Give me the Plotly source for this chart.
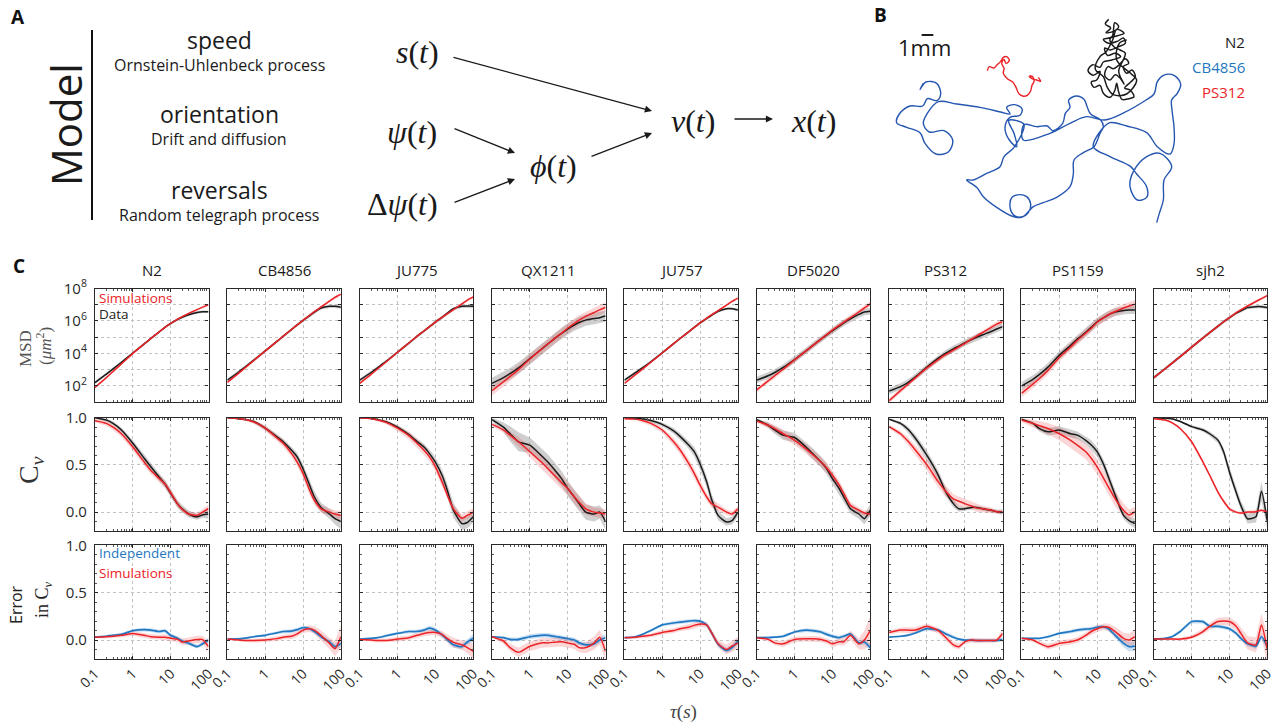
import plotly.graph_objects as go

W, H = 1288, 728

# ---------------------------------------------------------------- data
STRAINS = ["N2", "CB4856", "JU775", "QX1211", "JU757", "DF5020", "PS312", "PS1159", "sjh2"]
TAU = [0.1, 0.2, 0.3, 0.5, 1, 2, 3, 5, 7, 10, 15, 20, 30, 50, 70, 100]

# mean squared displacement, log10(um^2)
MSD_DATA = {
    "N2":     [2.20, 2.72, 3.04, 3.45, 4.02, 4.58, 4.92, 5.33, 5.60, 5.85, 6.08, 6.22, 6.38, 6.52, 6.57, 6.57],
    "CB4856": [2.35, 2.85, 3.17, 3.58, 4.15, 4.72, 5.06, 5.48, 5.76, 6.04, 6.33, 6.55, 6.80, 6.90, 6.90, 6.85],
    "JU775":  [2.35, 2.82, 3.12, 3.50, 4.07, 4.64, 4.98, 5.38, 5.65, 5.93, 6.22, 6.45, 6.75, 6.90, 6.92, 6.90],
    "QX1211": [2.15, 2.50, 2.75, 3.10, 3.68, 4.25, 4.58, 5.00, 5.25, 5.50, 5.75, 5.90, 6.05, 6.15, 6.20, 6.30],
    "JU757":  [2.35, 2.82, 3.10, 3.48, 4.03, 4.60, 4.93, 5.33, 5.60, 5.88, 6.15, 6.35, 6.60, 6.75, 6.75, 6.68],
    "DF5020": [2.35, 2.62, 2.82, 3.13, 3.62, 4.15, 4.48, 4.88, 5.13, 5.40, 5.68, 5.88, 6.13, 6.40, 6.55, 6.60],
    "PS312":  [1.67, 1.95, 2.17, 2.55, 3.15, 3.70, 3.98, 4.28, 4.45, 4.65, 4.85, 4.98, 5.15, 5.35, 5.50, 5.65],
    "PS1159": [1.98, 2.40, 2.70, 3.15, 3.88, 4.50, 4.88, 5.30, 5.60, 5.95, 6.20, 6.38, 6.55, 6.65, 6.67, 6.67],
    "sjh2":   [2.50, 3.05, 3.38, 3.80, 4.38, 4.95, 5.28, 5.68, 5.95, 6.20, 6.48, 6.62, 6.82, 6.88, 6.88, 6.82],
}
MSD_SIM = {
    "N2":     [1.90, 2.50, 2.88, 3.35, 4.00, 4.58, 4.92, 5.33, 5.60, 5.85, 6.10, 6.27, 6.47, 6.70, 6.85, 7.00],
    "CB4856": [2.20, 2.78, 3.13, 3.56, 4.15, 4.72, 5.06, 5.48, 5.76, 6.04, 6.35, 6.57, 6.86, 7.22, 7.45, 7.65],
    "JU775":  [2.15, 2.70, 3.05, 3.48, 4.07, 4.64, 4.98, 5.38, 5.65, 5.93, 6.22, 6.42, 6.70, 7.05, 7.28, 7.48],
    "QX1211": [1.70, 2.25, 2.58, 3.00, 3.65, 4.25, 4.58, 5.00, 5.25, 5.55, 5.85, 6.05, 6.28, 6.52, 6.68, 6.84],
    "JU757":  [2.15, 2.70, 3.03, 3.45, 4.02, 4.60, 4.93, 5.33, 5.60, 5.88, 6.17, 6.37, 6.63, 6.97, 7.20, 7.40],
    "DF5020": [1.75, 2.30, 2.62, 3.02, 3.60, 4.15, 4.48, 4.88, 5.15, 5.43, 5.72, 5.92, 6.20, 6.55, 6.80, 7.05],
    "PS312":  [1.08, 1.70, 2.05, 2.50, 3.10, 3.62, 3.90, 4.20, 4.40, 4.62, 4.88, 5.05, 5.30, 5.60, 5.80, 5.95],
    "PS1159": [1.53, 2.10, 2.45, 2.95, 3.75, 4.40, 4.80, 5.25, 5.55, 5.92, 6.20, 6.38, 6.58, 6.80, 6.92, 7.03],
    "sjh2":   [2.50, 3.05, 3.38, 3.80, 4.38, 4.95, 5.28, 5.68, 5.95, 6.20, 6.50, 6.68, 6.92, 7.20, 7.38, 7.56],
}
# spread of the MSD curves, in decades (data, simulations)
MSD_SPREAD = {
    "N2": (0.08, 0.06), "CB4856": (0.10, 0.08), "JU775": (0.10, 0.08),
    "QX1211": (0.35, 0.30), "JU757": (0.08, 0.06), "DF5020": (0.20, 0.15),
    "PS312": (0.20, 0.15), "PS1159": (0.25, 0.25), "sjh2": (0.10, 0.08),
}

# velocity autocorrelation C_v
CV_DATA = {
    "N2":     [1.00, 0.975, 0.94, 0.87, 0.73, 0.57, 0.48, 0.37, 0.30, 0.20, 0.09, 0.035, -0.02, -0.05, -0.03, -0.02],
    "CB4856": [1.00, 0.99, 0.98, 0.96, 0.89, 0.80, 0.745, 0.655, 0.585, 0.46, 0.285, 0.16, 0.05, -0.02, -0.07, -0.10],
    "JU775":  [1.00, 0.995, 0.98, 0.957, 0.90, 0.82, 0.76, 0.69, 0.62, 0.53, 0.39, 0.25, 0.02, -0.12, -0.11, -0.05],
    "QX1211": [0.98, 0.90, 0.83, 0.745, 0.71, 0.60, 0.53, 0.425, 0.35, 0.25, 0.16, 0.09, 0.00, -0.02, 0.00, -0.10],
    "JU757":  [1.00, 0.995, 0.99, 0.97, 0.93, 0.86, 0.80, 0.71, 0.64, 0.51, 0.32, 0.14, -0.035, -0.105, -0.09, 0.00],
    "DF5020": [0.98, 0.92, 0.87, 0.815, 0.79, 0.69, 0.62, 0.53, 0.46, 0.355, 0.25, 0.16, 0.035, -0.02, -0.07, 0.02],
    "PS312":  [0.985, 0.94, 0.885, 0.78, 0.60, 0.39, 0.23, 0.09, 0.035, 0.035, 0.05, 0.05, 0.035, 0.02, 0.005, 0.00],
    "PS1159": [0.985, 0.94, 0.885, 0.85, 0.87, 0.83, 0.815, 0.76, 0.71, 0.64, 0.50, 0.37, 0.18, -0.035, -0.09, -0.12],
    "sjh2":   [1.00, 0.995, 0.99, 0.96, 0.905, 0.87, 0.83, 0.76, 0.64, 0.425, 0.21, 0.07, -0.07, -0.05, 0.22, -0.10],
}
CV_SIM = {
    "N2":     [0.968, 0.94, 0.90, 0.83, 0.69, 0.53, 0.44, 0.355, 0.30, 0.205, 0.09, 0.03, -0.02, -0.035, 0.00, 0.04],
    "CB4856": [1.00, 0.99, 0.98, 0.955, 0.89, 0.79, 0.73, 0.62, 0.53, 0.41, 0.23, 0.125, 0.035, 0.00, -0.02, -0.035],
    "JU775":  [1.00, 0.99, 0.975, 0.95, 0.89, 0.81, 0.745, 0.655, 0.585, 0.48, 0.32, 0.195, 0.035, -0.065, -0.035, 0.00],
    "QX1211": [0.93, 0.87, 0.815, 0.745, 0.64, 0.53, 0.46, 0.37, 0.31, 0.25, 0.16, 0.105, 0.035, 0.00, -0.01, -0.02],
    "JU757":  [0.99, 0.985, 0.97, 0.94, 0.87, 0.745, 0.655, 0.515, 0.41, 0.285, 0.16, 0.09, 0.053, 0.00, -0.02, 0.035],
    "DF5020": [0.965, 0.92, 0.885, 0.83, 0.76, 0.67, 0.61, 0.53, 0.47, 0.39, 0.285, 0.195, 0.07, 0.02, -0.01, -0.02],
    "PS312":  [0.905, 0.83, 0.76, 0.655, 0.50, 0.32, 0.23, 0.14, 0.115, 0.09, 0.065, 0.045, 0.035, 0.02, 0.005, 0.00],
    "PS1159": [0.975, 0.94, 0.915, 0.885, 0.83, 0.76, 0.71, 0.64, 0.57, 0.48, 0.355, 0.265, 0.14, 0.02, -0.03, 0.005],
    "sjh2":   [0.99, 0.975, 0.947, 0.885, 0.745, 0.53, 0.39, 0.21, 0.115, 0.035, 0.00, -0.01, 0.00, 0.005, 0.02, 0.00],
}
CV_DATA_SPREAD = {
    "N2":     [0.01, 0.015, 0.02, 0.025, 0.03, 0.035, 0.035, 0.04, 0.04, 0.04, 0.04, 0.04, 0.035, 0.03, 0.03, 0.05],
    "CB4856": [0.005, 0.01, 0.01, 0.015, 0.02, 0.03, 0.03, 0.035, 0.04, 0.05, 0.06, 0.06, 0.05, 0.05, 0.06, 0.08],
    "JU775":  [0.005, 0.01, 0.01, 0.015, 0.02, 0.025, 0.03, 0.035, 0.04, 0.05, 0.06, 0.07, 0.08, 0.07, 0.06, 0.06],
    "QX1211": [0.02, 0.05, 0.08, 0.10, 0.08, 0.08, 0.08, 0.08, 0.08, 0.08, 0.08, 0.08, 0.08, 0.08, 0.07, 0.09],
    "JU757":  [0.005, 0.01, 0.01, 0.015, 0.02, 0.03, 0.035, 0.04, 0.05, 0.06, 0.06, 0.06, 0.05, 0.04, 0.04, 0.05],
    "DF5020": [0.01, 0.03, 0.04, 0.05, 0.05, 0.05, 0.06, 0.06, 0.06, 0.06, 0.06, 0.06, 0.05, 0.05, 0.06, 0.06],
    "PS312":  [0.01, 0.02, 0.03, 0.04, 0.05, 0.05, 0.05, 0.04, 0.03, 0.02, 0.02, 0.02, 0.02, 0.02, 0.02, 0.03],
    "PS1159": [0.01, 0.02, 0.03, 0.04, 0.04, 0.04, 0.04, 0.04, 0.05, 0.05, 0.05, 0.05, 0.05, 0.04, 0.04, 0.05],
    "sjh2":   [0.005, 0.01, 0.01, 0.01, 0.015, 0.02, 0.025, 0.03, 0.04, 0.05, 0.05, 0.05, 0.05, 0.06, 0.10, 0.08],
}
CV_SIM_SPREAD = {
    "N2":     [0.02, 0.025, 0.03, 0.035, 0.04, 0.04, 0.04, 0.04, 0.04, 0.04, 0.035, 0.03, 0.03, 0.03, 0.03, 0.04],
    "CB4856": [0.005, 0.01, 0.015, 0.02, 0.03, 0.035, 0.04, 0.04, 0.045, 0.05, 0.05, 0.05, 0.04, 0.04, 0.04, 0.05],
    "JU775":  [0.005, 0.01, 0.015, 0.02, 0.03, 0.04, 0.045, 0.05, 0.05, 0.05, 0.05, 0.05, 0.04, 0.04, 0.04, 0.04],
    "QX1211": [0.02, 0.03, 0.04, 0.05, 0.06, 0.07, 0.07, 0.07, 0.07, 0.07, 0.07, 0.07, 0.06, 0.05, 0.05, 0.05],
    "JU757":  [0.01, 0.015, 0.02, 0.025, 0.03, 0.04, 0.045, 0.05, 0.05, 0.05, 0.04, 0.04, 0.04, 0.03, 0.03, 0.03],
    "DF5020": [0.02, 0.03, 0.035, 0.04, 0.05, 0.05, 0.05, 0.05, 0.05, 0.05, 0.05, 0.05, 0.04, 0.03, 0.03, 0.03],
    "PS312":  [0.02, 0.03, 0.04, 0.05, 0.06, 0.06, 0.06, 0.05, 0.05, 0.05, 0.04, 0.04, 0.03, 0.03, 0.02, 0.02],
    "PS1159": [0.02, 0.04, 0.05, 0.06, 0.07, 0.08, 0.08, 0.08, 0.08, 0.08, 0.08, 0.08, 0.08, 0.07, 0.06, 0.05],
    "sjh2":   [0.005, 0.01, 0.01, 0.015, 0.02, 0.02, 0.02, 0.02, 0.02, 0.02, 0.015, 0.015, 0.015, 0.015, 0.015, 0.015],
}

# error in C_v: independent-process model and full simulations
ERR_INDEP = {
    "N2":     [0.03, 0.04, 0.05, 0.06, 0.10, 0.11, 0.105, 0.09, 0.10, 0.05, 0.02, -0.01, -0.035, -0.07, -0.04, 0.00],
    "CB4856": [0.01, 0.012, 0.02, 0.035, 0.05, 0.075, 0.09, 0.095, 0.11, 0.13, 0.12, 0.09, 0.035, -0.02, -0.07, -0.035],
    "JU775":  [0.01, 0.018, 0.025, 0.045, 0.07, 0.09, 0.09, 0.105, 0.125, 0.105, 0.055, 0.01, -0.05, -0.07, -0.02, 0.02],
    "QX1211": [0.035, 0.025, 0.007, 0.007, 0.035, 0.05, 0.05, 0.035, 0.025, 0.015, 0.00, -0.03, -0.05, -0.04, 0.00, 0.025],
    "JU757":  [0.025, 0.035, 0.06, 0.10, 0.16, 0.18, 0.19, 0.20, 0.205, 0.20, 0.16, 0.08, -0.045, -0.11, -0.08, -0.01],
    "DF5020": [0.025, 0.025, 0.03, 0.04, 0.085, 0.105, 0.10, 0.085, 0.06, 0.04, 0.025, 0.04, 0.065, -0.03, -0.02, -0.08],
    "PS312":  [0.03, 0.04, 0.05, 0.075, 0.12, 0.105, 0.07, 0.03, 0.01, 0.00, 0.00, -0.005, -0.005, -0.005, -0.005, 0.005],
    "PS1159": [0.018, 0.018, 0.018, 0.035, 0.07, 0.09, 0.105, 0.115, 0.12, 0.135, 0.14, 0.12, 0.05, -0.035, -0.07, -0.065],
    "sjh2":   [0.01, 0.018, 0.035, 0.09, 0.195, 0.195, 0.145, 0.145, 0.135, 0.12, 0.07, 0.018, -0.04, -0.065, 0.035, -0.07],
}
ERR_SIM = {
    "N2":     [0.03, 0.035, 0.04, 0.05, 0.07, 0.05, 0.035, 0.03, 0.03, 0.02, 0.01, -0.02, -0.01, 0.005, 0.005, -0.07],
    "CB4856": [0.01, 0.00, -0.005, -0.005, 0.00, 0.015, 0.03, 0.04, 0.065, 0.105, 0.12, 0.105, 0.05, -0.035, -0.09, 0.035],
    "JU775":  [0.007, 0.00, -0.005, -0.004, 0.01, 0.025, 0.045, 0.07, 0.08, 0.08, 0.06, 0.02, -0.025, -0.05, -0.08, -0.12],
    "QX1211": [0.035, -0.01, -0.08, -0.13, -0.065, -0.03, -0.03, -0.02, -0.018, -0.03, -0.045, -0.08, -0.08, -0.03, 0.03, -0.12],
    "JU757":  [0.025, 0.03, 0.04, 0.05, 0.08, 0.10, 0.12, 0.135, 0.155, 0.17, 0.16, 0.08, -0.04, -0.10, -0.065, -0.03],
    "DF5020": [0.025, 0.007, -0.03, -0.04, 0.007, 0.014, 0.014, 0.007, -0.01, -0.04, -0.018, -0.018, 0.05, -0.04, 0.00, 0.10],
    "PS312":  [0.08, 0.105, 0.105, 0.105, 0.145, 0.10, 0.035, -0.05, -0.07, -0.02, 0.00, -0.005, -0.005, -0.005, 0.00, 0.07],
    "PS1159": [0.018, 0.00, -0.035, -0.07, -0.035, -0.018, 0.00, 0.05, 0.09, 0.12, 0.14, 0.135, 0.09, 0.018, 0.00, 0.035],
    "sjh2":   [0.01, 0.01, 0.01, 0.01, 0.03, 0.09, 0.145, 0.195, 0.20, 0.195, 0.145, 0.07, -0.03, -0.05, 0.16, -0.10],
}
ERR_INDEP_SPREAD = {
    "N2":     [0.01, 0.01, 0.01, 0.015, 0.015, 0.02, 0.02, 0.02, 0.02, 0.02, 0.02, 0.02, 0.02, 0.02, 0.02, 0.03],
    "CB4856": [0.01, 0.01, 0.01, 0.01, 0.015, 0.015, 0.02, 0.02, 0.02, 0.02, 0.02, 0.02, 0.02, 0.025, 0.03, 0.04],
    "JU775":  [0.01, 0.01, 0.01, 0.015, 0.015, 0.02, 0.02, 0.02, 0.025, 0.025, 0.025, 0.025, 0.03, 0.03, 0.03, 0.04],
    "QX1211": [0.01, 0.015, 0.02, 0.02, 0.025, 0.025, 0.025, 0.025, 0.025, 0.025, 0.025, 0.025, 0.025, 0.03, 0.03, 0.04],
    "JU757":  [0.01, 0.01, 0.01, 0.015, 0.015, 0.02, 0.02, 0.02, 0.02, 0.02, 0.02, 0.02, 0.025, 0.03, 0.03, 0.04],
    "DF5020": [0.01, 0.01, 0.01, 0.015, 0.015, 0.02, 0.02, 0.02, 0.02, 0.02, 0.02, 0.02, 0.02, 0.025, 0.03, 0.04],
    "PS312":  [0.01, 0.01, 0.015, 0.015, 0.02, 0.02, 0.02, 0.02, 0.015, 0.015, 0.015, 0.015, 0.015, 0.015, 0.015, 0.02],
    "PS1159": [0.01, 0.01, 0.01, 0.015, 0.015, 0.02, 0.02, 0.02, 0.02, 0.02, 0.02, 0.025, 0.03, 0.04, 0.05, 0.05],
    "sjh2":   [0.01, 0.01, 0.01, 0.015, 0.02, 0.02, 0.02, 0.02, 0.02, 0.02, 0.02, 0.02, 0.025, 0.03, 0.03, 0.04],
}
ERR_SIM_SPREAD = {
    "N2":     [0.01, 0.015, 0.02, 0.02, 0.025, 0.025, 0.025, 0.025, 0.03, 0.03, 0.03, 0.035, 0.04, 0.04, 0.04, 0.06],
    "CB4856": [0.01, 0.01, 0.015, 0.02, 0.02, 0.025, 0.025, 0.03, 0.03, 0.03, 0.035, 0.04, 0.05, 0.06, 0.08, 0.12],
    "JU775":  [0.01, 0.015, 0.02, 0.02, 0.025, 0.025, 0.025, 0.03, 0.03, 0.03, 0.035, 0.04, 0.05, 0.05, 0.06, 0.08],
    "QX1211": [0.01, 0.03, 0.04, 0.05, 0.05, 0.05, 0.05, 0.05, 0.05, 0.05, 0.05, 0.05, 0.06, 0.07, 0.08, 0.10],
    "JU757":  [0.01, 0.015, 0.02, 0.02, 0.025, 0.025, 0.025, 0.03, 0.03, 0.03, 0.03, 0.035, 0.04, 0.05, 0.06, 0.06],
    "DF5020": [0.01, 0.02, 0.025, 0.03, 0.03, 0.03, 0.03, 0.03, 0.03, 0.035, 0.035, 0.04, 0.05, 0.06, 0.10, 0.15],
    "PS312":  [0.02, 0.025, 0.03, 0.03, 0.03, 0.03, 0.035, 0.035, 0.03, 0.025, 0.025, 0.025, 0.025, 0.025, 0.025, 0.04],
    "PS1159": [0.01, 0.02, 0.025, 0.03, 0.03, 0.03, 0.03, 0.03, 0.035, 0.035, 0.035, 0.04, 0.05, 0.06, 0.07, 0.08],
    "sjh2":   [0.01, 0.01, 0.01, 0.015, 0.02, 0.03, 0.035, 0.04, 0.04, 0.045, 0.05, 0.06, 0.07, 0.08, 0.12, 0.15],
}

# example tracks (tracking-grid units; 35 units = 1 mm)
UNITS_PER_MM = 35
TRACK_CB4856 = [
    (160, 250), (150, 268), (168, 246), (200, 250), (212, 282), (200, 302), (172, 296), (158, 318), (120, 318),
    (88, 342), (80, 368), (110, 382), (150, 398), (165, 430), (198, 462), (235, 456), (248, 420), (222, 392),
    (178, 396), (160, 370), (172, 340), (205, 305), (260, 312), (330, 322), (392, 336), (420, 342), (410, 322),
    (432, 314), (456, 326), (450, 346), (420, 352), (405, 382), (418, 420), (440, 440), (432, 400), (416, 362),
    (440, 362), (462, 374), (432, 442), (402, 470), (390, 500), (350, 520), (310, 540), (290, 540), (320, 562),
    (340, 590), (380, 622), (430, 650), (455, 652), (475, 638), (482, 612), (470, 590), (448, 584), (426, 592),
    (420, 620), (432, 646), (458, 650), (490, 620), (520, 608), (560, 592), (600, 560), (610, 522), (612, 480),
    (640, 458), (672, 440), (690, 400), (700, 380), (692, 360), (662, 342), (652, 322), (642, 298), (620, 288),
    (596, 300), (600, 322), (586, 340), (578, 370), (548, 392), (532, 378), (500, 380), (462, 374), (460, 420),
    (540, 400), (600, 370), (650, 350), (704, 360), (762, 338), (828, 300), (852, 282), (862, 245), (880, 226),
    (912, 226), (932, 252), (922, 280), (905, 300), (906, 330), (912, 380), (912, 432), (900, 462), (862, 440),
    (830, 398), (770, 378), (720, 368), (690, 395), (670, 440), (720, 470), (782, 500), (800, 522), (830, 560),
    (830, 592), (802, 600), (780, 560), (790, 515), (830, 470), (870, 460), (905, 500), (882, 540), (880, 600),
    (868, 640), (860, 668),
]
TRACK_PS312 = [
    (352, 212), (358, 200), (372, 204), (380, 196), (392, 184), (400, 172), (410, 170), (418, 182), (408, 190),
    (402, 178), (395, 190), (402, 205), (400, 220), (412, 236), (428, 246), (438, 262), (446, 280), (458, 288),
    (472, 286), (482, 272), (486, 256), (492, 244), (488, 230), (478, 228), (486, 236), (500, 240), (512, 244),
    (505, 232),
]
TRACK_N2 = [
    (716, 58), (706, 72), (722, 84), (708, 98), (730, 94), (746, 80), (734, 68), (726, 110), (700, 118),
    (716, 130), (742, 124), (760, 114), (766, 130), (746, 140), (720, 150), (704, 144), (712, 166), (736, 160),
    (752, 170), (726, 180), (700, 186), (690, 202), (668, 194), (654, 212), (670, 226), (690, 214), (680, 240),
    (664, 246), (672, 262), (690, 256), (700, 280), (720, 292), (735, 270), (740, 250), (746, 276), (756, 298),
    (776, 296), (792, 290), (780, 270), (764, 264), (782, 246), (796, 230), (786, 210), (770, 220), (760, 200),
    (776, 190), (766, 176), (746, 196), (730, 206), (714, 200), (704, 226), (720, 240), (736, 224), (752, 236),
    (762, 252), (746, 214), (766, 160), (750, 150), (732, 140), (720, 116), (746, 106), (762, 100), (740, 88),
    (728, 120), (708, 156), (690, 170), (676, 208), (700, 230), (712, 262), (730, 284), (770, 282), (800, 240),
    (784, 222), (740, 180), (748, 130), (770, 120),
]

# ---------------------------------------------------------------- styling
BLACK = "#1b1b1b"
RED = "#ec2227"
BLUE = "#1f78c1"
TRACK_BLUE = "#2456b0"
GREY_FILL = "rgba(130,130,130,0.38)"
PINK_FILL = "rgba(236,70,70,0.22)"
BLUE_FILL = "rgba(80,150,215,0.30)"
SANS = "Open Sans"
SERIF = "Liberation Serif, DejaVu Serif, serif"

COL_LEFT, COL_STEP, PLOT_W = 95.0, 132.35, 113.5
ROW_TB = [(288.5, 402.0), (417.7, 531.0), (545.3, 659.0)]
X_MINOR = [k * 10 ** e for e in (-1, 0, 1) for k in range(2, 10)]
MSD_MAJOR = [1e2, 1e4, 1e6, 1e8]
MSD_MINOR = [1e1, 1e3, 1e5, 1e7]


def px(x):
    return x / W


def py(y):
    return 1 - y / H


fig = go.Figure()
layout_axes = {}


def add_band(ax, x, lo, hi, color):
    fig.add_trace(go.Scatter(
        x=x + x[::-1], y=hi + lo[::-1], fill="toself", fillcolor=color,
        mode="lines", line=dict(width=0), hoverinfo="skip",
        xaxis="x" + ax, yaxis="y" + ax))


def add_line(ax, x, y, color, width=1.5):
    fig.add_trace(go.Scatter(
        x=x, y=y, mode="lines", hoverinfo="skip",
        line=dict(color=color, width=width, shape="spline", smoothing=0.6),
        xaxis="x" + ax, yaxis="y" + ax))


grid_style = dict(gridcolor="#c2c2c2", griddash="dot", gridwidth=1)
axis_common = dict(
    showline=True, mirror="ticks", linecolor="#2a2a2a", linewidth=1.1,
    ticks="inside", ticklen=3, tickcolor="#2a2a2a", showgrid=True,
    zeroline=False, fixedrange=True, automargin=False, **grid_style,
)

for r in range(3):
    for c, strain in enumerate(STRAINS):
        n = r * 9 + c + 1
        ax = "" if n == 1 else str(n)
        x0 = COL_LEFT + c * COL_STEP
        top, bot = ROW_TB[r]
        xa = dict(axis_common, domain=[px(x0), px(x0 + PLOT_W)], type="log", range=[-1, 2],
                  tickmode="array", tickvals=[0.1, 1, 10, 100],
                  ticktext=["0.1", "1", "10", "100"], showticklabels=(r == 2),
                  tickangle=-45, tickfont=dict(family=SANS, size=14, color="#2a2a2a"),
                  minor=dict(tickmode="array", tickvals=X_MINOR, ticks="inside", ticklen=2,
                             tickcolor="#555555", showgrid=False),
                  anchor="y" + ax)
        if r == 0:
            ya = dict(axis_common, domain=[py(bot), py(top)], type="log", range=[1, 8],
                      tickmode="array", tickvals=MSD_MAJOR,
                      ticktext=["10<sup>2</sup>", "10<sup>4</sup>", "10<sup>6</sup>", "10<sup>8</sup>"],
                      minor=dict(tickmode="array", tickvals=MSD_MINOR, ticks="inside", ticklen=3,
                                 tickcolor="#2a2a2a", showgrid=True, **grid_style),
                      showticklabels=(c == 0), anchor="x" + ax,
                      tickfont=dict(family=SANS, size=15, color="#2a2a2a"), ticklabelstandoff=4)
        else:
            ya = dict(axis_common, domain=[py(bot), py(top)], range=[-0.2, 1.0],
                      tickmode="array", tickvals=[0, 0.5, 1.0], ticktext=["0.0", "0.5", "1.0"],
                      showticklabels=(c == 0), anchor="x" + ax,
                      minor=dict(ticks="inside", ticklen=2, tickcolor="#555555", dtick=0.1, showgrid=False),
                      tickfont=dict(family=SANS, size=15, color="#2a2a2a"), ticklabelstandoff=4)
        layout_axes["xaxis" + ax] = xa
        layout_axes["yaxis" + ax] = ya

        if r == 0:
            d, s = MSD_DATA[strain], MSD_SIM[strain]
            sd, ss = MSD_SPREAD[strain]
            add_band(ax, TAU, [10 ** (v - sd) for v in d], [10 ** (v + sd) for v in d], GREY_FILL)
            add_band(ax, TAU, [10 ** (v - ss) for v in s], [10 ** (v + ss) for v in s], PINK_FILL)
            add_line(ax, TAU, [10 ** v for v in d], BLACK)
            add_line(ax, TAU, [10 ** v for v in s], RED)
        elif r == 1:
            d, s = CV_DATA[strain], CV_SIM[strain]
            ed, es = CV_DATA_SPREAD[strain], CV_SIM_SPREAD[strain]
            add_band(ax, TAU, [a - b for a, b in zip(d, ed)], [a + b for a, b in zip(d, ed)], GREY_FILL)
            add_band(ax, TAU, [a - b for a, b in zip(s, es)], [a + b for a, b in zip(s, es)], PINK_FILL)
            add_line(ax, TAU, d, BLACK)
            add_line(ax, TAU, s, RED)
        else:
            d, s = ERR_INDEP[strain], ERR_SIM[strain]
            ed, es = ERR_INDEP_SPREAD[strain], ERR_SIM_SPREAD[strain]
            add_band(ax, TAU, [a - b for a, b in zip(d, ed)], [a + b for a, b in zip(d, ed)], BLUE_FILL)
            add_band(ax, TAU, [a - b for a, b in zip(s, es)], [a + b for a, b in zip(s, es)], PINK_FILL)
            add_line(ax, TAU, d, BLUE, 1.7)
            add_line(ax, TAU, s, RED, 1.5)

# panel B: tracks
layout_axes["xaxis28"] = dict(domain=[px(870), 1.0], range=[0, 1254], visible=False,
                              fixedrange=True, anchor="y28", automargin=False)
layout_axes["yaxis28"] = dict(domain=[py(240), 1.0], range=[720, 0], visible=False,
                              fixedrange=True, anchor="x28", automargin=False)
for track, color, wd in [(TRACK_CB4856, TRACK_BLUE, 1.4), (TRACK_PS312, RED, 1.4), (TRACK_N2, BLACK, 1.5)]:
    fig.add_trace(go.Scatter(x=[p[0] for p in track], y=[p[1] for p in track], mode="lines",
                             line=dict(color=color, width=wd, shape="spline", smoothing=1.0),
                             hoverinfo="skip", xaxis="x28", yaxis="y28"))
fig.add_trace(go.Scatter(x=[155, 155 + UNITS_PER_MM], y=[105, 105], mode="lines",
                         line=dict(color=BLACK, width=2), hoverinfo="skip", xaxis="x28", yaxis="y28"))

# ---------------------------------------------------------------- text
ann = []


def text(x, y, s, size, color="#222222", family=SANS, xanchor="center", yanchor="middle", angle=0):
    ann.append(dict(x=px(x), y=py(y), xref="paper", yref="paper", text=s, showarrow=False,
                    font=dict(family=family, size=size, color=color),
                    xanchor=xanchor, yanchor=yanchor, textangle=angle))


# panel letters
text(18, 17, "<b>A</b>", 19, "#111")
text(881, 15, "<b>B</b>", 19, "#111")
text(19, 266, "<b>C</b>", 19, "#111")

# panel A: model components
text(65, 125, "Model", 42, "#1a1a1a", angle=-90)
for yy, title, sub in [(40, "speed", "Ornstein-Uhlenbeck process"),
                       (114, "orientation", "Drift and diffusion"),
                       (190, "reversals", "Random telegraph process")]:
    text(219, yy, title, 23, "#1a1a1a")
    text(219, yy + 25, sub, 16, "#1a1a1a")

text(417, 52, "<i>s</i>(<i>t</i>)", 32, "#1a1a1a", SERIF)
text(412, 132, "<i>ψ</i>(<i>t</i>)", 32, "#1a1a1a", SERIF)
text(402, 204, "Δ<i>ψ</i>(<i>t</i>)", 32, "#1a1a1a", SERIF)
text(553, 166, "<i>ϕ</i>(<i>t</i>)", 32, "#1a1a1a", SERIF)
text(693, 121, "<i>v</i>(<i>t</i>)", 32, "#1a1a1a", SERIF)
text(813, 121, "<i>x</i>(<i>t</i>)", 32, "#1a1a1a", SERIF)

for (tx, ty), (hx, hy) in [((452, 57), (652, 111)), ((453, 128), (515, 153)),
                           ((453, 203), (515, 179)), ((590, 157), (652, 133)),
                           ((733, 119), (773, 119))]:
    ann.append(dict(x=px(hx), y=py(hy), xref="paper", yref="paper", ax=tx - hx, ay=ty - hy,
                    text="", showarrow=True, arrowhead=2, arrowsize=1.1, arrowwidth=1.3,
                    arrowcolor="#1a1a1a", standoff=0, startstandoff=0))

# panel B labels
text(925, 47, "1mm", 22, "#1a1a1a")
text(1247, 42, "N2", 15, "#1a1a1a", xanchor="right")
text(1247, 67, "CB4856", 15, BLUE, xanchor="right")
text(1247, 92, "PS312", 15, RED, xanchor="right")

# panel C labels
for c, strain in enumerate(STRAINS):
    text(COL_LEFT + c * COL_STEP + PLOT_W / 2, 270, strain, 15, "#1a1a1a")
text(97, 298, "Simulations", 13.5, RED, xanchor="left")
text(97, 314, "Data", 13.5, "#222222", xanchor="left")
text(97, 553, "Independent", 13.5, BLUE, xanchor="left")
text(97, 573, "Simulations", 13.5, RED, xanchor="left")

text(25, 348, "MSD", 17, "#555555", SERIF, angle=-90)
text(44, 346, "(<i>μm</i><sup>2</sup>)", 17, "#555555", SERIF, angle=-90)
text(30, 470, "C<sub><i>v</i></sub>", 28, "#333333", SERIF, angle=-90)
text(16, 604, "Error", 16, "#222222", SANS, angle=-90)
text(43, 600, "in C<sub><i>v</i></sub>", 18, "#222222", SERIF, angle=-90)
text(683, 712, "<i>τ</i>(<i>s</i>)", 19, "#444444", SERIF)

fig.update_layout(
    width=W, height=H, margin=dict(l=0, r=0, t=0, b=0, pad=0), autosize=False,
    paper_bgcolor="white", plot_bgcolor="white", showlegend=False,
    annotations=ann,
    shapes=[dict(type="line", xref="paper", yref="paper", x0=px(92), x1=px(92),
                 y0=py(30), y1=py(220), line=dict(color="#111111", width=2))],
    **layout_axes,
)

fig.write_html("out.html")
